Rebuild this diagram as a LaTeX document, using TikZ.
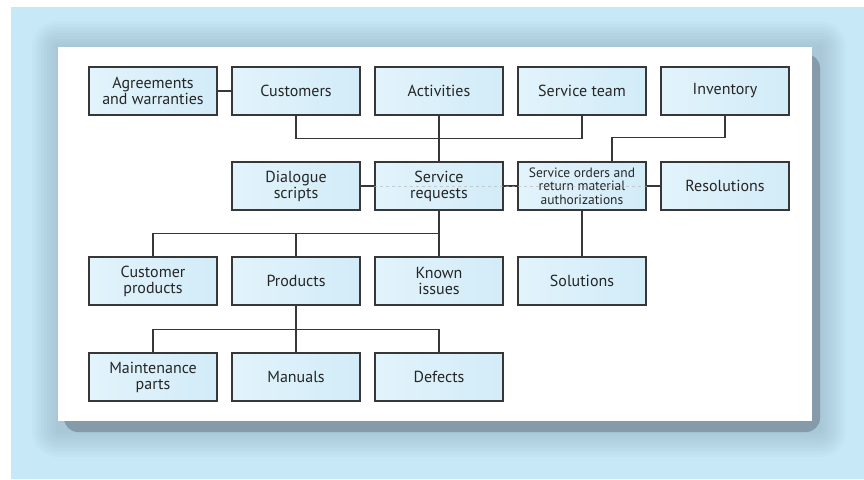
\documentclass[tikz,border=0pt]{standalone}
\usepackage{fontspec}
\setmainfont{PT Sans}
\usetikzlibrary{calc}
\definecolor{bgblue}{RGB}{198,232,247}
\definecolor{shadowc}{RGB}{120,145,160}
\definecolor{darkshadow}{RGB}{133,155,170}
\definecolor{boxL}{RGB}{226,243,251}
\definecolor{boxR}{RGB}{210,236,248}
\definecolor{edge}{RGB}{55,55,55}
\tikzset{
  box/.style={draw=edge, line width=1.3pt, left color=boxL, right color=boxR,
    minimum width=128pt, minimum height=48pt, inner sep=0pt, align=center,
    font=\fontsize{16}{16}\selectfont, text=black!85},
  smallbox/.style={box, font=\fontsize{13.5}{13.3}\selectfont},
  link/.style={draw=edge, line width=1.2pt},
  faint/.style={draw=gray!60, line width=0.5pt, dashed, opacity=0.6}
}
\begin{document}
\begin{tikzpicture}[x=1pt,y=-1pt]
\useasboundingbox (0,0) rectangle (864,479);
\fill[white] (0,0) rectangle (864,479);
\fill[bgblue] (11,7) rectangle (864,479);
% halo
\foreach \d in {26,23,20,17,14,11,8,5,2}{
  \fill[shadowc, fill opacity=0.045, rounded corners=\d pt] (58-\d,47-\d) rectangle (820+\d,431+\d);
}
\fill[darkshadow, rounded corners=14pt] (64,54) rectangle (820,432);
% panel
\fill[white] (58,47) rectangle (812,421);

% row 1
\node[box] (agr) at (153,91) {Agreements\\and warranties};
\node[box] (cust) at (296,91) {Customers};
\node[box] (act) at (439,91) {Activities};
\node[box] (team) at (582,91) {Service team};
\node[box] (inv) at (725,91) {Inventory};
% row 2
\node[box] (dlg) at (296,186) {Dialogue\\scripts};
\node[box] (sr) at (439,186) {Service\\requests};
\node[smallbox] (so) at (582,186) {Service orders and\\return material\\authorizations};
\node[box] (res) at (725,186) {Resolutions};
% row 3
\node[box] (cp) at (153,281) {Customer\\products};
\node[box] (prod) at (296,281) {Products};
\node[box] (ki) at (439,281) {Known\\issues};
\node[box] (sol) at (582,281) {Solutions};
% row 4
\node[box] (mp) at (153,377) {Maintenance\\parts};
\node[box] (man) at (296,377) {Manuals};
\node[box] (def) at (439,377) {Defects};

% connectors
\draw[link] (agr) -- (cust);
\draw[link] (cust.south) -- ++(0,23) -| (team.south);
\draw[link] (act.south) -- (sr.north);
\draw[link] (inv.south) -- ++(0,22) -| ($(so.north)+(30,0)$);
\draw[link] (dlg) -- (sr);
\draw[link] (sr) -- (so);
\draw[link] (so) -- (res);
\draw[link] (sr.south) -- ++(0,23) coordinate (j2);
\draw[link] (cp.north) |- (j2) -| (ki.north);
\draw[link] (prod.north) -- (prod.north |- j2);
\draw[link] (so.south) -- (sol.north);
\draw[link] (prod.south) -- ++(0,24) coordinate (j3);
\draw[link] (mp.north) |- (j3) -| (def.north);
\draw[link] (j3) -- (man.north);
\draw[faint] (sr.west) -- (so.east);
\end{tikzpicture}
\end{document}
